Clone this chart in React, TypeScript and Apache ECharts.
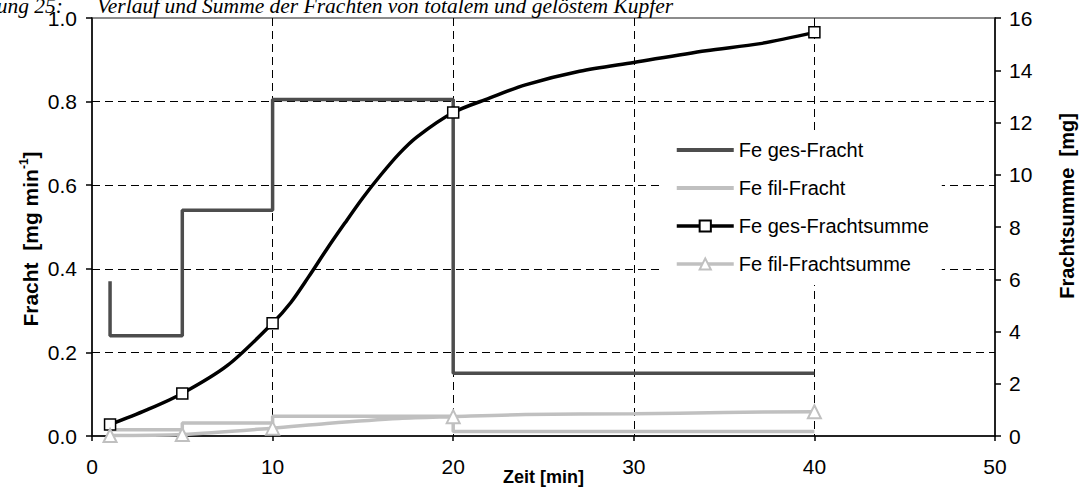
import React, { useEffect, useRef } from "react";
import * as echarts from "echarts";

const FONT = "'Liberation Sans', Arial, Helvetica, sans-serif";
const SERIF = "'Liberation Serif', 'Times New Roman', serif";

// Load per interval (mg/min), drawn as steps on the left axis
const gesFrachtTimes = [1, 1, 5, 5, 10, 10, 20, 20, 40];
const gesFrachtValues = [0.37, 0.24, 0.24, 0.54, 0.54, 0.805, 0.805, 0.15, 0.15];
const filFrachtTimes = [1, 5, 5, 10, 10, 20, 20, 40];
const filFrachtValues = [0.015, 0.015, 0.031, 0.031, 0.047, 0.047, 0.011, 0.011];

// Cumulative load (mg), right axis
const gesSumTimes = [1, 3, 5, 7.5, 10, 11, 12, 13, 14, 15, 16, 17, 18, 20, 22, 24, 27, 30, 34, 37, 40];
const gesSumValues = [0.44, 0.99, 1.63, 2.7, 4.32, 5.1, 6.1, 7.15, 8.15, 9.12, 10.0, 10.8, 11.45, 12.38, 12.93, 13.44, 13.96, 14.3, 14.75, 15.02, 15.45];
const filSumTimes = [1, 5, 10, 13, 17, 20, 24, 30, 35, 40];
const filSumValues = [0.02, 0.06, 0.3, 0.48, 0.67, 0.74, 0.82, 0.85, 0.9, 0.93];
const markerTimes = [1, 5, 10, 20, 40];

const seriesNames = ["Fe ges-Fracht", "Fe fil-Fracht", "Fe ges-Frachtsumme", "Fe fil-Frachtsumme"];

const pairs = (xs: number[], ys: number[]) => xs.map((x, i) => [x, ys[i]]);
const marked = (xs: number[], ys: number[]) =>
  xs.map((x, i) => (markerTimes.includes(x) ? { value: [x, ys[i]] } : { value: [x, ys[i]], symbol: "none" }));

// plain bar used as the legend key of the step series
const barIcon = "path://M0,0 L57,0 L57,4 L0,4 Z";

export default function App() {
  const ref = useRef<HTMLDivElement>(null);

  useEffect(() => {
    if (!ref.current) return;
    const chart = echarts.init(ref.current, undefined, { renderer: "svg" });

    const axisLineStyle = { color: "#000", width: 1.5 };
    const labelStyle = { color: "#000", fontSize: 21, fontFamily: FONT };
    const dashed = { color: "#000", width: 1, type: [8, 5] as any };

    chart.setOption({
      animation: false,
      grid: {
        left: 92,
        right: 86,
        top: 18,
        bottom: 57,
        outerBoundsMode: "none",
        show: true,
        borderColor: "#8c8c8c",
        borderWidth: 2,
        backgroundColor: "transparent",
      },
      xAxis: {
        type: "value",
        min: 0,
        max: 50,
        interval: 10,
        axisLine: { show: true, lineStyle: axisLineStyle },
        axisTick: { show: true, length: 5, lineStyle: axisLineStyle },
        axisLabel: { ...labelStyle, margin: 20 },
        splitLine: { show: true, showMinLine: false, showMaxLine: false, lineStyle: dashed },
        name: "Zeit [min]",
        nameLocation: "middle",
        nameGap: 32,
        nameMoveOverlap: false,
        nameTextStyle: { color: "#000", fontSize: 18, fontWeight: "bold", fontFamily: FONT },
      },
      yAxis: [
        {
          type: "value",
          position: "left",
          min: 0,
          max: 1,
          interval: 0.2,
          axisLine: { show: true, lineStyle: axisLineStyle },
          axisTick: { show: true, length: 6, lineStyle: axisLineStyle },
          axisLabel: { ...labelStyle, margin: 15, formatter: (v: number) => v.toFixed(1) },
          splitLine: { show: true, showMinLine: false, showMaxLine: false, lineStyle: dashed },
        },
        {
          type: "value",
          position: "right",
          min: 0,
          max: 16,
          interval: 2,
          axisLine: { show: true, lineStyle: axisLineStyle },
          axisTick: { show: true, length: 6, lineStyle: axisLineStyle },
          axisLabel: { ...labelStyle, margin: 14 },
          splitLine: { show: false },
        },
      ],
      legend: {
        orient: "vertical",
        left: 660,
        top: 130,
        itemWidth: 57,
        itemHeight: 14,
        itemGap: 18,
        padding: [10, 13, 11, 15],
        backgroundColor: "#fff",
        lineStyle: { width: 3.5 },
        textStyle: { color: "#000", fontSize: 20, lineHeight: 20, fontFamily: FONT },
        data: [
          { name: seriesNames[0], icon: barIcon },
          { name: seriesNames[1], icon: barIcon },
          { name: seriesNames[2] },
          { name: seriesNames[3] },
        ],
      },
      series: [
        {
          name: seriesNames[0],
          type: "line",
          yAxisIndex: 0,
          data: pairs(gesFrachtTimes, gesFrachtValues),
          symbol: "none",
          lineStyle: { color: "#4d4d4d", width: 3.5 },
          itemStyle: { color: "#4d4d4d" },
        },
        {
          name: seriesNames[1],
          type: "line",
          yAxisIndex: 0,
          data: pairs(filFrachtTimes, filFrachtValues),
          symbol: "none",
          lineStyle: { color: "#c0c0c0", width: 3.5 },
          itemStyle: { color: "#c0c0c0" },
        },
        {
          name: seriesNames[2],
          type: "line",
          yAxisIndex: 1,
          data: marked(gesSumTimes, gesSumValues),
          smooth: 0.3,
          symbol: "rect",
          symbolSize: 11,
          showAllSymbol: true,
          lineStyle: { color: "#000", width: 3.5 },
          itemStyle: { color: "#fff", borderColor: "#000", borderWidth: 1.5 },
        },
        {
          name: seriesNames[3],
          type: "line",
          yAxisIndex: 1,
          data: marked(filSumTimes, filSumValues),
          smooth: 0.3,
          symbol: "triangle",
          symbolSize: 13,
          showAllSymbol: true,
          lineStyle: { color: "#c0c0c0", width: 3.5 },
          itemStyle: { color: "#fff", borderColor: "#c0c0c0", borderWidth: 2 },
        },
      ],
      graphic: [
        {
          type: "text",
          x: 63,
          y: 17,
          style: { text: "Abbildung 25:", font: `italic 21.5px ${SERIF}`, fill: "#000", align: "right", verticalAlign: "bottom" },
        },
        {
          type: "text",
          x: 97,
          y: 17,
          style: {
            text: "Verlauf und Summe der Frachten von totalem und gelöstem Kupfer",
            font: `italic 21.5px ${SERIF}`,
            fill: "#000",
            align: "left",
            verticalAlign: "bottom",
          },
        },
        {
          type: "text",
          x: 30,
          y: 239,
          rotation: Math.PI / 2,
          style: {
            text: "{b|Fracht  [mg min}{s|-1}{b|]}",
            align: "center",
            verticalAlign: "middle",
            fill: "#000",
            rich: {
              b: { fontSize: 21, fontWeight: "bold", fontFamily: FONT, lineHeight: 24, verticalAlign: "middle" },
              s: { fontSize: 12, fontWeight: "bold", fontFamily: FONT, lineHeight: 24, verticalAlign: "top" },
            },
          },
        },
        {
          type: "text",
          x: 1067,
          y: 206,
          rotation: Math.PI / 2,
          style: {
            text: "Frachtsumme  [mg]",
            font: `bold 20px ${FONT}`,
            fill: "#000",
            align: "center",
            verticalAlign: "middle",
          },
        },
      ],
    });

    return () => chart.dispose();
  }, []);

  return (
    <div
      ref={ref}
      style={{ position: "fixed", left: 0, top: 0, width: 1081, height: 493, background: "#fff" }}
    />
  );
}
